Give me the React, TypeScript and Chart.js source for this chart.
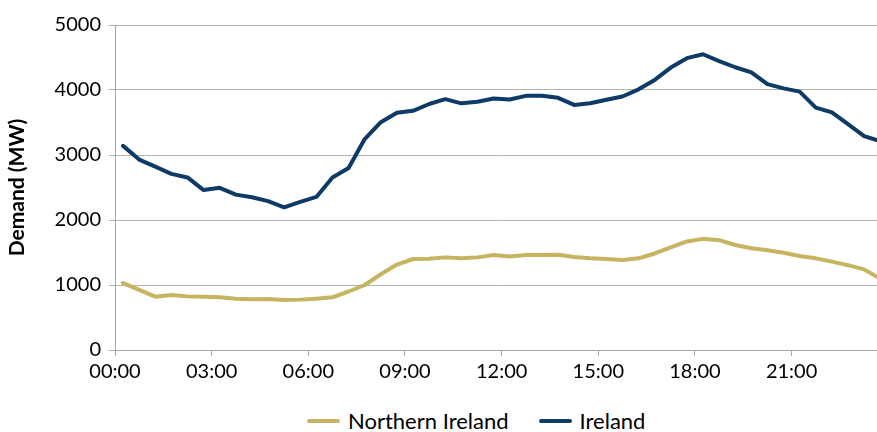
import React, { useEffect, useRef } from "react";
import { Chart, registerables } from "chart.js";

Chart.register(...registerables);

// Half-hourly interval midpoints
const timeLabels = [
  "00:15", "00:45", "01:15", "01:45", "02:15", "02:45", "03:15", "03:45",
  "04:15", "04:45", "05:15", "05:45", "06:15", "06:45", "07:15", "07:45",
  "08:15", "08:45", "09:15", "09:45", "10:15", "10:45", "11:15", "11:45",
  "12:15", "12:45", "13:15", "13:45", "14:15", "14:45", "15:15", "15:45",
  "16:15", "16:45", "17:15", "17:45", "18:15", "18:45", "19:15", "19:45",
  "20:15", "20:45", "21:15", "21:45", "22:15", "22:45", "23:15", "23:45",
];

const northernIreland = [
  1030, 925, 820, 845, 825, 820, 810, 790,
  780, 785, 770, 775, 790, 810, 900, 1000,
  1165, 1315, 1400, 1405, 1425, 1410, 1425, 1460,
  1440, 1460, 1460, 1465, 1430, 1410, 1400, 1385,
  1410, 1485, 1580, 1670, 1710, 1690, 1615, 1565,
  1535, 1495, 1445, 1410, 1360, 1305, 1240, 1100,
];

const ireland = [
  3140, 2930, 2820, 2710, 2655, 2460, 2495, 2390,
  2350, 2290, 2195, 2280, 2355, 2655, 2800, 3245,
  3505, 3650, 3680, 3785, 3860, 3795, 3820, 3870,
  3855, 3910, 3910, 3880, 3770, 3795, 3850, 3900,
  4010, 4155, 4345, 4490, 4550, 4445, 4350, 4270,
  4090, 4025, 3975, 3730, 3655, 3475, 3290, 3215,
];

const xTickLabels = ["00:00", "03:00", "06:00", "09:00", "12:00", "15:00", "18:00", "21:00"];
const yTickValues = [0, 1000, 2000, 3000, 4000, 5000];

const seriesNames = ["Northern Ireland", "Ireland"];
const seriesColors = ["#C6B461", "#0D3B66"];

const FONT = "Lato, 'Open Sans', sans-serif";

const toHours = (t: string) => {
  const [h, m] = t.split(":").map(Number);
  return h + m / 60;
};

export default function App() {
  const canvasRef = useRef<HTMLCanvasElement | null>(null);

  useEffect(() => {
    if (!canvasRef.current) return;
    const xs = timeLabels.map(toHours);
    const chart = new Chart(canvasRef.current, {
      type: "line",
      data: {
        datasets: [northernIreland, ireland].map((vals, i) => ({
          label: seriesNames[i],
          data: vals.map((v, j) => ({ x: xs[j], y: v })),
          borderColor: seriesColors[i],
          backgroundColor: seriesColors[i],
          borderWidth: 4,
          pointRadius: 0,
          tension: 0,
          borderJoinStyle: "round" as const,
          borderCapStyle: "round" as const,
        })),
      },
      options: {
        animation: false,
        responsive: false,
        maintainAspectRatio: false,
        layout: { padding: { top: 25, left: 0, right: 0, bottom: 0 } },
        plugins: {
          legend: { display: false },
          tooltip: { enabled: false },
        },
        scales: {
          x: {
            type: "linear",
            min: 0,
            max: 23.65,
            afterFit: (scale: any) => {
              scale.height = 50;
            },
            ticks: {
              stepSize: 3,
              includeBounds: false,
              autoSkip: false,
              maxRotation: 0,
              minRotation: 0,
              padding: 4,
              color: "#000",
              font: { family: FONT, size: 20 },
              callback: (v: any) => xTickLabels[Math.round(Number(v) / 3)] ?? "",
            },
            grid: {
              display: true,
              drawOnChartArea: false,
              drawTicks: true,
              tickLength: 6,
              color: "#A6A6A6",
            },
            border: { display: true, color: "#A6A6A6", width: 1 },
          },
          y: {
            min: yTickValues[0],
            max: yTickValues[yTickValues.length - 1],
            afterFit: (scale: any) => {
              scale.width = 115;
            },
            afterBuildTicks: (scale: any) => {
              scale.ticks = yTickValues.map((v) => ({ value: v }));
            },
            ticks: {
              padding: 8,
              color: "#000",
              font: { family: FONT, size: 20 },
              callback: (v: any) => String(v),
            },
            grid: {
              color: "#B3B3B3",
              tickLength: 6,
              drawTicks: true,
            },
            border: { display: true, color: "#A6A6A6", width: 1 },
            title: {
              display: true,
              text: "Demand (MW)",
              color: "#000",
              font: { family: FONT, size: 21, weight: "bold" },
              padding: { top: 5, bottom: 0 },
            },
          },
        },
      },
    });
    return () => chart.destroy();
  }, []);

  const legendItem = (i: number) => (
    <div key={i} style={{ display: "flex", alignItems: "center", marginRight: i === 0 ? 30 : 0 }}>
      <span
        style={{
          display: "inline-block",
          width: 33,
          height: 4,
          background: seriesColors[i],
          borderRadius: 2,
          marginRight: 8,
        }}
      />
      <span style={{ fontFamily: FONT, fontSize: 22, color: "#000", lineHeight: "24px" }}>
        {seriesNames[i]}
      </span>
    </div>
  );

  return (
    <div style={{ position: "fixed", left: 0, top: 0, width: 877, height: 432, background: "#fff", overflow: "hidden" }}>
      <canvas ref={canvasRef} width={877} height={400} style={{ position: "absolute", left: 0, top: 0, width: 877, height: 400 }} />
      <div style={{ position: "absolute", left: 307, top: 409, display: "flex", alignItems: "center" }}>
        {legendItem(0)}
        {legendItem(1)}
      </div>
    </div>
  );
}
